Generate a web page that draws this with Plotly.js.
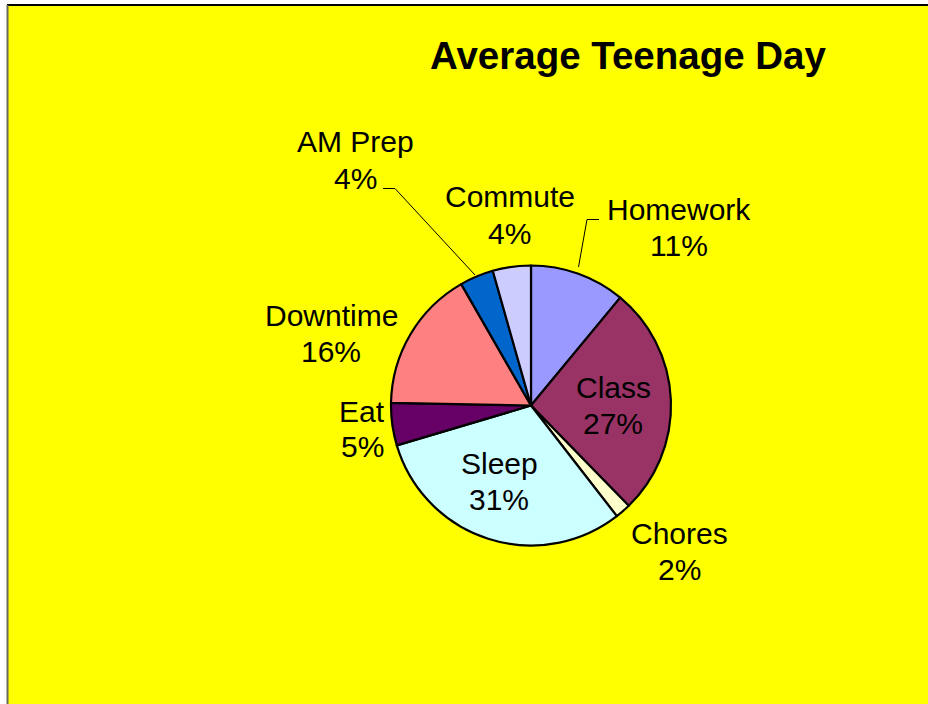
<!DOCTYPE html>
<html>
<head>
<meta charset="utf-8">
<script src="https://cdn.plot.ly/plotly-3.0.1.min.js"></script>
<style>html,body{margin:0;padding:0;background:#fff;overflow:hidden;}#chart{width:928px;height:704px;}</style>
</head>
<body>
<div id="chart"></div>
<script>
// Data (share of day, %), clockwise from 12 o'clock
const categories = ['Homework', 'Class', 'Chores', 'Sleep', 'Eat', 'Downtime', 'AM Prep', 'Commute'];
const values = [11.0, 26.7, 1.8, 30.9, 4.9, 16.4, 3.9, 4.4];
const sliceColors = ['#9999FF', '#993366', '#FFFFCC', '#CCFFFF', '#660066', '#FF8080', '#0066CC', '#CCCCFF'];
const chartTitle = 'Average Teenage Day';

// Label placement (pixel centres of the two-line block) - layout only
const labelPos = {
  'Homework': [679, 227],
  'Class': [613, 405],
  'Chores': [679, 551],
  'Sleep': [499, 481],
  'Eat': [362, 429],
  'Downtime': [331, 333],
  'AM Prep': [355, 160],
  'Commute': [510, 215]
};
const halfLine = 18;

const W = 928, H = 704;
const px = x => x / W;
const py = y => 1 - y / H;

const total = values.reduce((a, b) => a + b, 0);
const font = 'Liberation Sans, Arial, sans-serif';

const annotations = [];
categories.forEach((c, i) => {
  const lines = [c, Math.round(values[i] / total * 100) + '%'];
  lines.forEach((t, k) => {
    annotations.push({
      text: t,
      x: px(labelPos[c][0]), y: py(labelPos[c][1] + (k === 0 ? -halfLine : halfLine)),
      xref: 'paper', yref: 'paper', xanchor: 'center', yanchor: 'middle',
      showarrow: false, align: 'center',
      font: {family: font, size: 30, color: '#000'}
    });
  });
});

const shapes = [
  {type: 'rect', xref: 'paper', yref: 'paper', x0: px(7), x1: 1, y0: 0, y1: py(5),
   fillcolor: '#FFFF00', line: {width: 0, color: 'rgba(0,0,0,0)'}, layer: 'below'},
  {type: 'line', xref: 'paper', yref: 'paper', x0: px(7), x1: 1, y0: py(5), y1: py(5),
   line: {color: '#000', width: 2}, layer: 'below'},
  {type: 'line', xref: 'paper', yref: 'paper', x0: px(7.5), x1: px(7.5), y0: 0, y1: py(5),
   line: {color: '#6b6b5a', width: 2}, layer: 'below'},
  // leader lines
  {type: 'path', xref: 'paper', yref: 'paper',
   path: 'M ' + px(383) + ' ' + py(188.5) + ' L ' + px(395) + ' ' + py(188.5) + ' L ' + px(475) + ' ' + py(275),
   line: {color: '#000', width: 1}},
  {type: 'path', xref: 'paper', yref: 'paper',
   path: 'M ' + px(599) + ' ' + py(219.5) + ' L ' + px(587) + ' ' + py(219.5) + ' L ' + px(578.5) + ' ' + py(267),
   line: {color: '#000', width: 1}}
];

const trace = {
  type: 'pie',
  labels: categories,
  values: values,
  sort: false,
  direction: 'clockwise',
  rotation: 0,
  textinfo: 'none',
  hoverinfo: 'label+percent',
  marker: {colors: sliceColors, line: {color: '#000', width: 2.2}},
  domain: {x: [px(391), px(671)], y: [py(545.5), py(265.5)]},
  showlegend: false
};

const layout = {
  width: W, height: H,
  margin: {l: 0, r: 0, t: 0, b: 0, pad: 0},
  paper_bgcolor: '#FFFFFF',
  showlegend: false,
  title: {
    text: chartTitle,
    x: px(628), xref: 'paper', xanchor: 'center',
    y: py(56), yref: 'paper', yanchor: 'middle',
    font: {family: font, size: 38.5, color: '#000', weight: 'bold'}
  },
  annotations: annotations,
  shapes: shapes
};

Plotly.newPlot('chart', [trace], layout, {displayModeBar: false, staticPlot: true});
</script>
</body>
</html>
